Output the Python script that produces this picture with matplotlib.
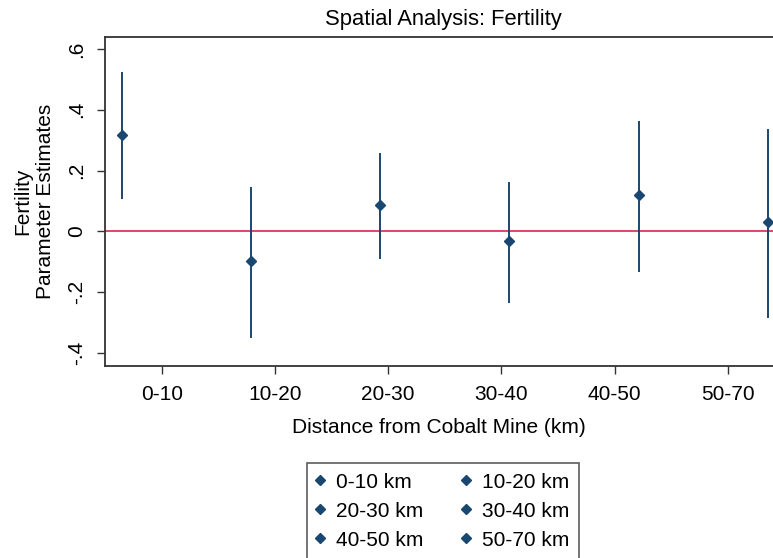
import numpy as np
import matplotlib
matplotlib.use("Agg")
import matplotlib.pyplot as plt

plt.rcParams["font.family"] = ["Liberation Sans", "DejaVu Sans"]

# coefficient estimates with 95% CI, one per distance band
bands = ["0-10", "10-20", "20-30", "30-40", "40-50", "50-70"]
legend_labels = ["0-10 km", "10-20 km", "20-30 km", "30-40 km", "40-50 km", "50-70 km"]
estimates = [0.318, -0.097, 0.086, -0.033, 0.119, 0.030]
ci_low = [0.105, -0.352, -0.092, -0.235, -0.135, -0.286]
ci_high = [0.525, 0.147, 0.256, 0.161, 0.363, 0.335]
y_ticks = [-0.4, -0.2, 0.0, 0.2, 0.4, 0.6]
y_ticklabels = ["-.4", "-.2", "0", ".2", ".4", ".6"]

NAVY = "#1a476f"
RED = "#d8284f"
FS = 15

fig = plt.figure(figsize=(7.73, 5.58), dpi=100)
ax = fig.add_axes([0.1358, 0.344, 0.8642, 0.5897])

xpos = np.arange(1, len(bands) + 1)
ax.axhline(0, color=RED, lw=1.2, zorder=1)

handles = []
for i, x in enumerate(xpos):
    ax.vlines(x, ci_low[i], ci_high[i], color=NAVY, lw=1.4, zorder=2)
    h, = ax.plot(x, estimates[i], "D", color=NAVY, ms=5.5, ls="none",
                 label=legend_labels[i], zorder=3)
    handles.append(h)

ax.set_xlim(0.87, 6.04)
ax.set_ylim(-0.443, 0.639)

# stata-style category ticks, not aligned with the points
ax.set_xticks(np.linspace(1.309, 5.69, 6))
ax.set_xticklabels(bands, fontsize=FS)
ax.set_yticks(y_ticks)
ax.set_yticklabels(y_ticklabels, fontsize=FS, rotation=90, va="center")
ax.tick_params(axis="both", length=5.5, width=1, color="#333333", pad=8)

ax.spines["right"].set_visible(False)
for s in ("left", "bottom", "top"):
    ax.spines[s].set_linewidth(1.3)
    ax.spines[s].set_color("#333333")

ax.set_xlabel("Distance from Cobalt Mine (km)", fontsize=FS, labelpad=10)
ax.set_ylabel("Fertility\nParameter Estimates", fontsize=FS, labelpad=9,
              linespacing=1.25)
fig.text(0.573, 0.965, "Spatial Analysis: Fertility", fontsize=15.8,
         ha="center", va="center")

# row-wise legend order
order = [0, 2, 4, 1, 3, 5]
leg = fig.legend([handles[k] for k in order], [legend_labels[k] for k in order],
                 ncol=2, loc="upper left", bbox_to_anchor=(0.397, 0.17),
                 borderaxespad=0, fontsize=FS, frameon=True, fancybox=False,
                 handlelength=0.35, handletextpad=0.6, columnspacing=1.85,
                 labelspacing=0.48, borderpad=0.46)
leg.get_frame().set_edgecolor("#333333")
leg.get_frame().set_linewidth(1.2)
for h in leg.legend_handles:
    h.set_markersize(5.2)

fig.savefig("out.png", dpi=100)
